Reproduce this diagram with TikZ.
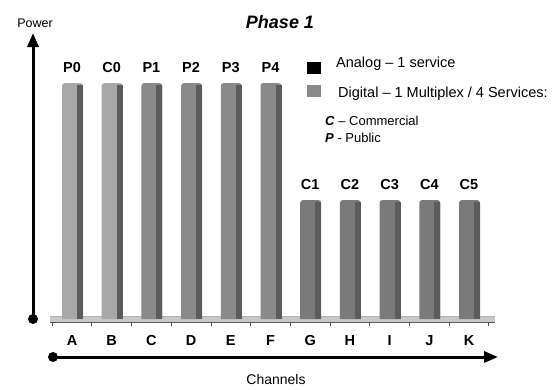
\documentclass[tikz,border=0pt]{standalone}
\usepackage{fontspec}
\setmainfont{Liberation Sans}
\usetikzlibrary{arrows.meta}
\definecolor{lightbar}{HTML}{A8A8A8}
\definecolor{midbar}{HTML}{8A8A8A}
\definecolor{darkbar}{HTML}{7A7A7A}
\definecolor{sidebar}{HTML}{5C5C5C}
\definecolor{floorcol}{HTML}{C8C8C8}
\begin{document}
\begin{tikzpicture}[x=1pt,y=-1pt,
  barlbl/.style={font=\bfseries\fontsize{14.5}{14.5}\selectfont, inner sep=0pt, anchor=base},
  chlbl/.style={font=\bfseries\fontsize{14.5}{14.5}\selectfont, inner sep=0pt, anchor=base},
  axtext/.style={font=\fontsize{12.5}{12.5}\selectfont, inner sep=0pt, anchor=base},
  legtext/.style={font=\fontsize{14.5}{14.5}\selectfont, inner sep=0pt, anchor=base west},
  keytext/.style={font=\fontsize{13}{13}\selectfont, inner sep=0pt, anchor=base west},
  axis/.style={line width=3pt, -{Triangle[length=14pt,width=11pt]}},
  axdot/.style={circle, fill=black, minimum size=10pt, inner sep=0pt},
  legbox/.style={minimum width=14pt, minimum height=12pt, inner sep=0pt, draw=none}
]
\useasboundingbox (0,0) rectangle (557,389);

% title
\node[font=\bfseries\itshape\fontsize{18}{18}\selectfont, inner sep=0pt, anchor=base] (title) at (280,28) {Phase 1};
\node[axtext] (power) at (35,27) {Power};
\node[axtext, font=\fontsize{14}{14}\selectfont] (channels) at (276,384) {Channels};

% floor
\fill[floorcol] (50,316) rectangle (495,322);
\draw[gray!70!black, line width=0.6pt] (50,322) -- (495,322);
\draw[gray!60, line width=0.6pt] (50,316) -- (495,316);
\foreach \k in {0,...,11}{
  \draw[gray!60!black, line width=0.6pt] ({52+39.7*\k},322) -- ++(0,4);
}

% bars
\foreach \i/\lab/\top/\col in {0/P0/83/lightbar,1/C0/83/lightbar,2/P1/83/midbar,3/P2/83/midbar,4/P3/83/midbar,5/P4/83/midbar,6/C1/200/darkbar,7/C2/200/darkbar,8/C3/200/darkbar,9/C4/200/darkbar,10/C5/200/darkbar}{
  \pgfmathsetmacro\xl{62+39.7*\i}
  \fill[\col] (\xl,319) {[rounded corners=3pt] -- (\xl,\top) -- (\xl+21,\top)} -- (\xl+21,319) -- cycle;
  \fill[sidebar] (\xl+15,319) -- (\xl+15,\top+2) -- (\xl+21,\top+2) -- (\xl+21,319) -- cycle;
  \node[barlbl] (lab\i) at (\xl+10,{\top-11}) {\lab};
}

% channel letters
\foreach \i/\c in {0/A,1/B,2/C,3/D,4/E,5/F,6/G,7/H,8/I,9/J,10/K}{
  \node[chlbl] (ch\c) at ({72+39.7*\i},345) {\c};
}

% axes
\node[axdot] (vdot) at (33,319) {};
\coordinate (vtip) at (33,33);
\draw[axis] (vdot.center) -- (vtip);
\node[axdot] (hdot) at (53,357) {};
\coordinate (htip) at (498,357);
\draw[axis] (hdot.center) -- (htip);

% legend
\node[legbox, fill=black] (lgA) at (313.5,68) {};
\node[legtext] (lgAt) at (336,67) {Analog – 1 service};
\node[legbox, fill=midbar] (lgD) at (313.5,91) {};
\node[legtext] (lgDt) at (338,97) {Digital – 1 Multiplex / 4 Services:};
\node[keytext] (keyC) at (325,125) {\textbf{\textit{C}} – Commercial};
\node[keytext] (keyP) at (325,142) {\textbf{\textit{P}} - Public};
\end{tikzpicture}
\end{document}
